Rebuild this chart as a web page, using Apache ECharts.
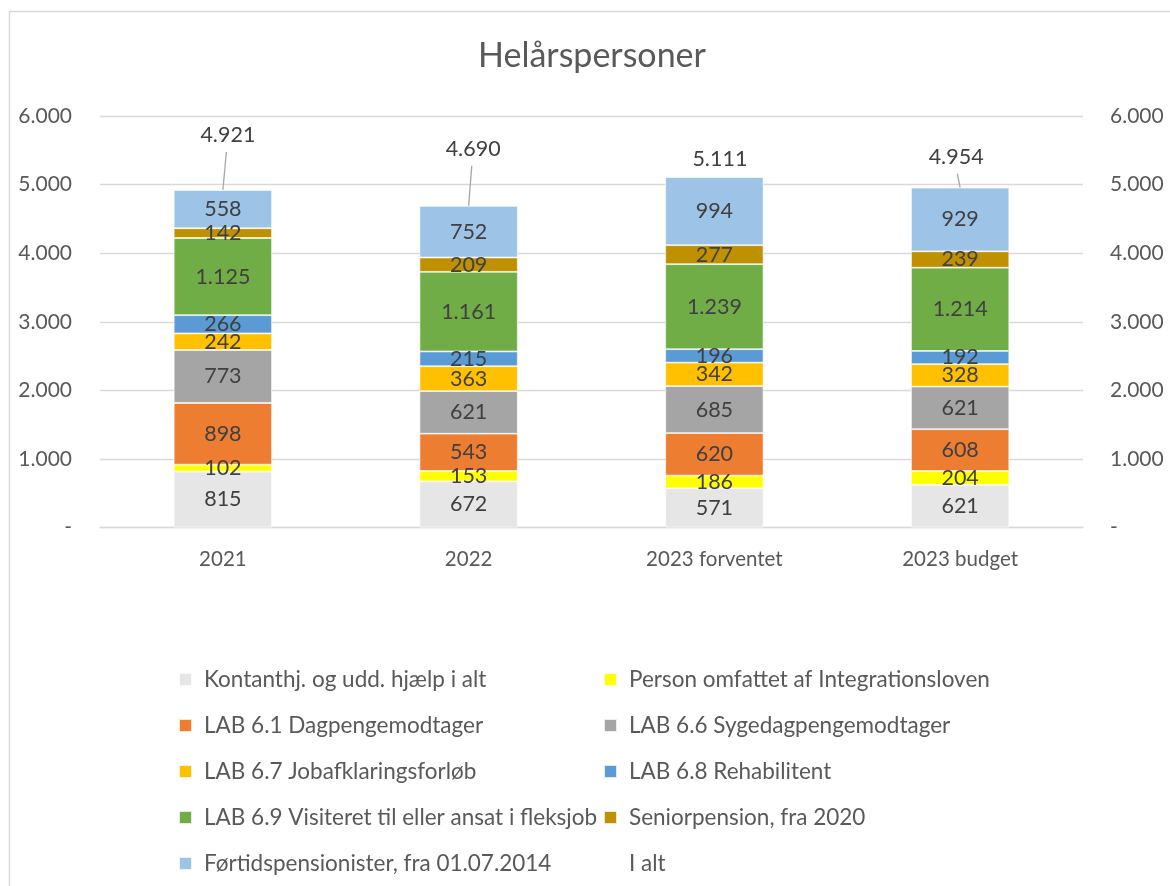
<!DOCTYPE html>
<html>
<head>
<meta charset="utf-8">
<script src="https://cdn.jsdelivr.net/npm/echarts@6/dist/echarts.min.js"></script>
<style>
html,body{margin:0;padding:0;background:#fff;}
#chart{width:1170px;height:886px;}
</style>
</head>
<body>
<div id="chart"></div>
<script>
// ---- data ----
const categories = ['2021', '2022', '2023 forventet', '2023 budget'];
const seriesNames = [
  'Kontanthj. og udd. hjælp i alt',
  'Person omfattet af Integrationsloven',
  'LAB 6.1 Dagpengemodtager',
  'LAB 6.6 Sygedagpengemodtager',
  'LAB 6.7 Jobafklaringsforløb',
  'LAB 6.8 Rehabilitent',
  'LAB 6.9 Visiteret til eller ansat i fleksjob',
  'Seniorpension, fra 2020',
  'Førtidspensionister, fra 01.07.2014'
];
const kontanthjaelp = [815, 672, 571, 621];
const integration = [102, 153, 186, 204];
const dagpenge = [898, 543, 620, 608];
const sygedagpenge = [773, 621, 685, 621];
const jobafklaring = [242, 363, 342, 328];
const rehabilitent = [266, 215, 196, 192];
const fleksjob = [1125, 1161, 1239, 1214];
const seniorpension = [142, 209, 277, 239];
const foertidspension = [558, 752, 994, 929];
const iAlt = [4921, 4690, 5111, 4954];
const totalName = 'I alt';
const yTicks = [0, 1000, 2000, 3000, 4000, 5000, 6000];

// ---- styling / layout ----
const colors = ['#E7E6E6', '#FFFF00', '#ED7D31', '#A5A5A5', '#FFC000', '#5B9BD5', '#70AD47', '#BF9000', '#9DC3E6'];
const totalLabelOffsets = [[5, -55], [4.5, -57], [5.5, -18], [-4, -31]];
const FONT = 'Lato';

function fmt(v) {
  if (v === 0) return '-';
  return String(Math.round(v)).replace(/\B(?=(\d{3})+(?!\d))/g, '.');
}

const values = [kontanthjaelp, integration, dagpenge, sygedagpenge, jobafklaring, rehabilitent, fleksjob, seniorpension, foertidspension];

const barSeries = values.map((arr, i) => ({
  name: seriesNames[i],
  type: 'bar',
  stack: 'total',
  barWidth: '40%',
  data: arr,
  itemStyle: { color: colors[i], borderColor: 'rgba(255,255,255,0.8)', borderWidth: 0.8 },
  label: {
    show: true,
    position: 'inside',
    formatter: p => fmt(p.value),
    color: '#404040',
    fontFamily: FONT,
    fontSize: 21.5
  },
  emphasis: { disabled: true }
}));

const totalSeries = {
  name: totalName,
  type: 'custom',
  data: iAlt.map((v, i) => [i, v]),
  itemStyle: { color: 'rgba(0,0,0,0)' },
  renderItem: function (params, api) {
    const pt = api.coord([api.value(0), api.value(1)]);
    const off = totalLabelOffsets[params.dataIndex];
    const lx = pt[0] + off[0];
    const ly = pt[1] + off[1];
    const children = [{
      type: 'text',
      style: {
        text: fmt(api.value(1)),
        x: lx, y: ly,
        align: 'center', verticalAlign: 'middle',
        fontFamily: FONT, fontSize: 21.5, fill: '#404040'
      }
    }];
    const lineTopY = ly + 17;
    if (pt[1] - lineTopY > 12) {
      children.push({
        type: 'line',
        shape: { x1: lx - off[0] * 0.3, y1: lineTopY, x2: pt[0], y2: pt[1] },
        style: { stroke: '#A6A6A6', lineWidth: 1.3 }
      });
    }
    return { type: 'group', children: children };
  }
};

const legendText = { color: '#595959', fontFamily: FONT, fontSize: 22.5, lineHeight: 22, padding: [0, 0, 0, 7] };
const legendCol1 = [seriesNames[0], seriesNames[2], seriesNames[4], seriesNames[6], seriesNames[8]];
const legendCol2 = [seriesNames[1], seriesNames[3], seriesNames[5], seriesNames[7], { name: totalName, icon: 'rect', itemStyle: { color: 'rgba(0,0,0,0)' } }];

const yAxisCommon = {
  type: 'value',
  min: yTicks[0],
  max: yTicks[yTicks.length - 1],
  interval: yTicks[1] - yTicks[0],
  axisLine: { show: false },
  axisTick: { show: false }
};

const option = {
  animation: false,
  backgroundColor: '#fff',
  title: {
    text: 'Helårspersoner',
    left: 587,
    textAlign: 'center',
    top: 34,
    textStyle: { color: '#595959', fontFamily: FONT, fontSize: 34, fontWeight: 'normal' }
  },
  graphic: [{
    type: 'rect',
    shape: { x: 9.5, y: 11.5, width: 1200, height: 900 },
    style: { fill: 'none', stroke: '#D9D9D9', lineWidth: 1.5 },
    silent: true
  }],
  grid: { left: 100, right: 87, top: 116, bottom: 358.5, containLabel: false },
  xAxis: {
    type: 'category',
    data: categories,
    axisLine: { show: true, lineStyle: { color: '#D9D9D9', width: 1.3 } },
    axisTick: { show: false },
    axisLabel: { color: '#595959', fontFamily: FONT, fontSize: 20.5, margin: 21 }
  },
  yAxis: [
    Object.assign({}, yAxisCommon, {
      position: 'left',
      splitLine: { show: true, lineStyle: { color: '#D9D9D9', width: 1.3 } },
      axisLabel: { color: '#595959', fontFamily: FONT, fontSize: 21, margin: 28, formatter: fmt }
    }),
    Object.assign({}, yAxisCommon, {
      position: 'right',
      splitLine: { show: false },
      axisLabel: { color: '#595959', fontFamily: FONT, fontSize: 21, margin: 27, formatter: fmt }
    })
  ],
  legend: [
    {
      orient: 'vertical', left: 178, top: 668, padding: 0,
      itemWidth: 13, itemHeight: 13, itemGap: 23,
      icon: 'rect', selectedMode: false,
      textStyle: legendText,
      data: legendCol1
    },
    {
      orient: 'vertical', left: 603, top: 668, padding: 0,
      itemWidth: 13, itemHeight: 13, itemGap: 23,
      icon: 'rect', selectedMode: false,
      textStyle: legendText,
      data: legendCol2
    }
  ],
  series: barSeries.concat([totalSeries])
};

const chart = echarts.init(document.getElementById('chart'), null, { renderer: 'canvas' });
chart.setOption(option);
</script>
</body>
</html>
